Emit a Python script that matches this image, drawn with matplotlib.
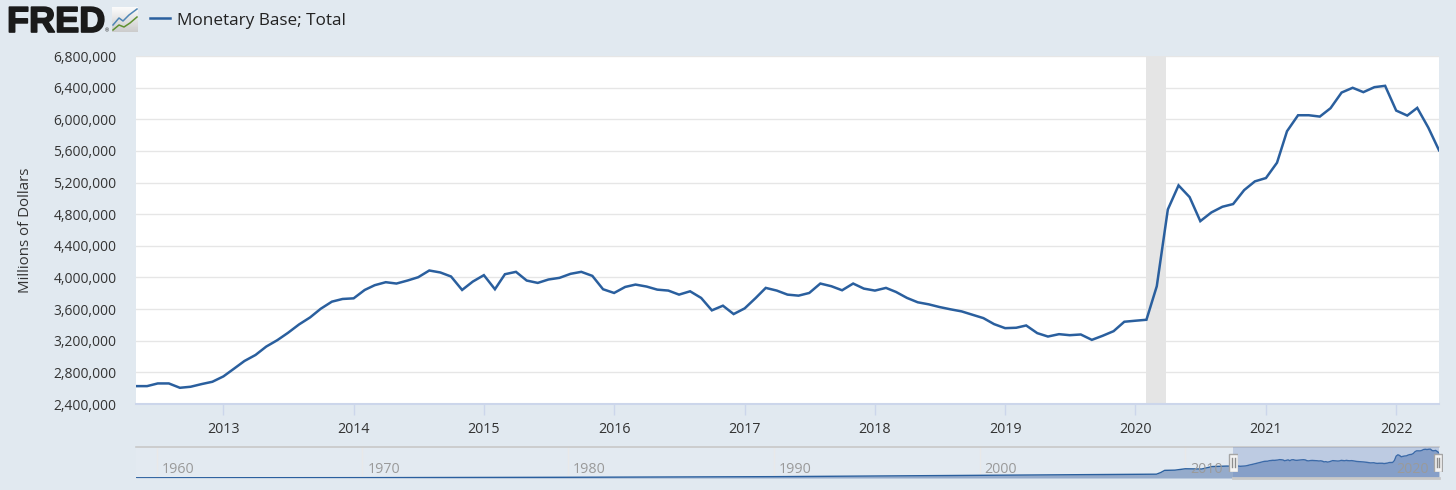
import matplotlib
matplotlib.use('Agg')
import matplotlib.pyplot as plt
import matplotlib.dates as mdates
import matplotlib.patheffects as pe
import numpy as np
import pandas as pd
from matplotlib.patches import Rectangle
from matplotlib.ticker import FuncFormatter

plt.rcParams['font.family'] = ['Open Sans', 'DejaVu Sans']

# Monthly values, millions of dollars
months = pd.date_range('2012-05-01', periods=121, freq='MS')
base_2012_2015 = [2626000, 2626000, 2660000, 2660000, 2605000, 2618000, 2652000, 2681000,
                  2749000, 2851000, 2944000, 3020000, 3126000, 3207000, 3300000, 3406000,
                  3495000, 3605000, 3694000, 3728000, 3736000, 3842000, 3902000, 3940000,
                  3923000, 3961000, 4003000, 4088000, 4063000, 4012000, 3842000, 3948000,
                  4029000, 3851000, 4041000, 4071000, 3961000, 3931000, 3974000, 3995000,
                  4046000, 4071000, 4020000, 3851000]
base_2016_2019 = [3804000, 3880000, 3910000, 3885000, 3846000, 3834000, 3783000, 3825000,
                  3741000, 3584000, 3643000, 3537000, 3609000, 3741000, 3868000, 3834000,
                  3783000, 3770000, 3804000, 3923000, 3889000, 3838000, 3923000, 3859000,
                  3834000, 3868000, 3817000, 3741000, 3686000, 3660000, 3626000, 3597000,
                  3571000, 3529000, 3486000, 3410000, 3359000, 3364000, 3393000, 3296000,
                  3253000, 3283000, 3270000, 3279000, 3211000, 3262000, 3321000, 3440000]
base_2020_2022 = [3453000, 3465000, 3889000, 4860000, 5164000, 5016000, 4712000, 4822000,
                  4894000, 4928000, 5105000, 5215000, 5257000, 5451000, 5849000, 6051000,
                  6051000, 6034000, 6140000, 6338000, 6398000, 6343000, 6406000, 6423000,
                  6110000, 6047000, 6144000, 5895000, 5608000]
base = base_2012_2015 + base_2016_2019 + base_2020_2022

y_ticks = [2400000, 2800000, 3200000, 3600000, 4000000, 4400000, 4800000, 5200000,
           5600000, 6000000, 6400000, 6800000]
x_tick_years = [2013, 2014, 2015, 2016, 2017, 2018, 2019, 2020, 2021, 2022]
recession = ['2020-01-30', '2020-03-28']

# Navigator series: the long history up to where the monthly window begins
nav_years = [1959, 1970, 1980, 1990, 2000, 2008.6, 2008.8, 2009.0, 2009.5, 2010, 2010.8, 2011.3, 2012]
nav_early = [50000, 80000, 160000, 300000, 600000, 850000, 1200000, 1700000, 1750000, 2050000,
             2000000, 2550000, 2650000]
nav_labels = [1960, 1970, 1980, 1990, 2000, 2010, 2020]

W, H = 1456, 490
BG = '#e1e9f0'
LINE = '#2a5f9e'
TEXT = '#333333'
AXIS = '#ccd6eb'


def px_axes(left, top, right, bottom):
    return fig.add_axes([left / W, 1 - bottom / H, (right - left) / W, (bottom - top) / H])


fig = plt.figure(figsize=(W / 100, H / 100), dpi=100, facecolor=BG)

# main chart
ax = px_axes(136, 56, 1439, 404)
ax.set_facecolor('white')
ax.plot(months, base, color=LINE, lw=1.8, solid_joinstyle='miter', zorder=3)
ax.axvspan(pd.Timestamp(recession[0]), pd.Timestamp(recession[1]), color='#e5e5e5', lw=0, zorder=2)
ax.set_xlim(months[0], months[-1])
ax.set_ylim(y_ticks[0], y_ticks[-1])
ax.set_yticks(y_ticks)
ax.yaxis.set_major_formatter(FuncFormatter(lambda v, p: f'{int(v):,}'))
ax.set_xticks([pd.Timestamp(f'{y}-01-01') for y in x_tick_years])
ax.xaxis.set_major_formatter(mdates.DateFormatter('%Y'))
ax.grid(axis='y', color='#e6e6e6', lw=1.0, zorder=1)
ax.set_axisbelow(True)
for s in ['top', 'right', 'left']:
    ax.spines[s].set_visible(False)
ax.spines['bottom'].set_color(AXIS)
ax.spines['bottom'].set_linewidth(1.5)
ax.tick_params(axis='y', length=0, pad=14, labelsize=10, labelcolor=TEXT)
ax.tick_params(axis='x', length=8, width=1, color=AXIS, pad=5, labelsize=10.3, labelcolor=TEXT)
for lab in ax.get_yticklabels():
    lab.set_y(lab.get_position()[1])
fig.text(26 / W, 1 - 230 / H, 'Millions of Dollars', rotation=90, ha='center', va='center',
         fontsize=10.8, color=TEXT)

# navigator
nav = px_axes(136, 447, 1439, 478)
nav.set_facecolor('#e3eaf1')
nav_x = nav_years + [d.year + (d.month - 1) / 12 for d in months]
nav_y = nav_early + base
nav.fill_between(nav_x, nav_y, 0, color='#95abcb', lw=0, zorder=2)
nav.plot(nav_x, nav_y, color=LINE, lw=1.0, zorder=3)
nav.set_xlim(1959, nav_x[-1])
nav.set_ylim(0, 6900000)
nav.set_xticks([])
nav.set_yticks([])
for s in ['left', 'right', 'bottom']:
    nav.spines[s].set_visible(False)
nav.spines['top'].set_color('#c8c8c8')
nav.spines['top'].set_linewidth(1.2)
for yr in nav_labels:
    nav.axvline(yr, color='#e9e9e9', lw=1, zorder=1)
    nav.annotate(str(yr), (yr, 0), xytext=(5, 1), textcoords='offset pixels', ha='left', va='bottom',
                 fontsize=10.3, color='#9a9a9a', zorder=5)
sel_left, sel_right = nav_x[len(nav_early)], nav_x[-1]
nav.axvspan(sel_left, sel_right, color='#6685c2', alpha=0.3, lw=0, zorder=4)
nav.plot([sel_left, sel_right], [0, 0], color='#c8c8c8', lw=2, zorder=5, clip_on=False)

# navigator handles
for hx, off in [(sel_left, 0), (sel_right, -1)]:
    xpx = nav.transData.transform((hx, 0))[0] + off
    hax = fig.add_axes([(xpx - 5) / W, 1 - 472 / H, 10 / W, 19 / H], zorder=8)
    hax.set_xlim(0, 10)
    hax.set_ylim(0, 19)
    hax.axis('off')
    hax.add_patch(Rectangle((0.5, 0.5), 9, 18, fc='#f4f4f4', ec='#a5a5a5', lw=1))
    hax.plot([3.7, 3.7], [5, 14], color='#8c8c8c', lw=1)
    hax.plot([6.3, 6.3], [5, 14], color='#8c8c8c', lw=1)

# FRED logo and legend
fig.text(7 / W, 1 - 32 / H, 'FRED', family='Liberation Sans', weight='bold', fontsize=26, color='#1a1a1a',
         ha='left', va='baseline', path_effects=[pe.withStroke(linewidth=1.2, foreground='#1a1a1a')])
fig.text(107 / W, 1 - 32 / H, '®', family='Liberation Sans', fontsize=4, color='#1a1a1a', ha='center', va='baseline')
logo = px_axes(112, 7, 138, 32)
logo.imshow(np.linspace(0.98, 0.80, 25).reshape(-1, 1), cmap='gray', vmin=0, vmax=1, aspect='auto',
            extent=(0, 26, 0, 25))
logo.plot([1, 7, 11, 17, 25], [7, 14, 11, 17, 23], color='#4f86b5', lw=1.1)
logo.plot([1, 7, 12, 18, 25], [2, 7, 5, 9, 15], color='#5f9130', lw=1.1)
logo.set_xlim(0, 26)
logo.set_ylim(0, 25)
logo.axis('off')

fig.add_artist(plt.Line2D([150 / W, 170 / W], [1 - 18.5 / H, 1 - 18.5 / H], color=LINE, lw=1.8))
fig.text(177 / W, 1 - 25 / H, 'Monetary Base; Total', fontsize=12.3, color='#222222', ha='left', va='baseline')

fig.savefig('out.png', dpi=100, facecolor=BG)
